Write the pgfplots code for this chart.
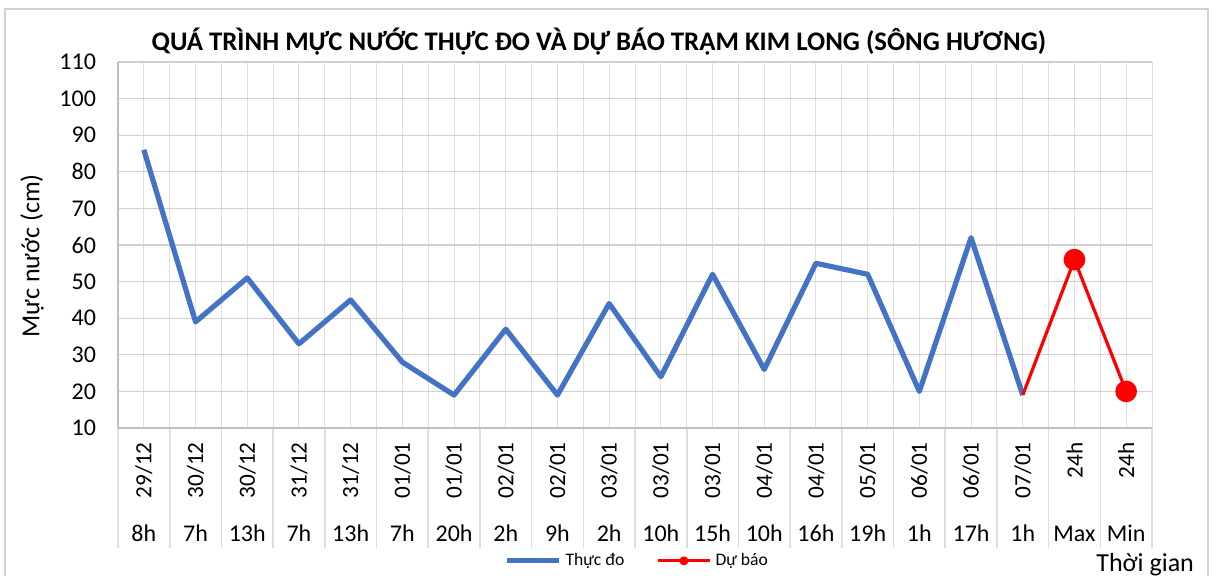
\documentclass[border=0pt]{standalone}
\usepackage{fontspec}
\setmainfont{Carlito}
\usepackage{pgfplots}
\pgfplotsset{compat=1.18}
\definecolor{lblue}{HTML}{4472C4}
\definecolor{lred}{HTML}{FF0000}
\definecolor{hgrid}{HTML}{D0D0D0}
\definecolor{vgrid}{HTML}{DEDEDE}
\definecolor{axgray}{HTML}{BFBFBF}
\newcommand\cat[3]{%
  \node[rotate=90,anchor=east,font=\fontsize{11.6}{13}\selectfont,inner sep=0pt] at ([yshift=-7pt]axis cs:#1,10) {#2};
  \node[anchor=base,font=\fontsize{12}{14}\selectfont,inner sep=0pt] at ([yshift=-56.5pt]axis cs:#1,10) {#3};}
\begin{document}
\begin{tikzpicture}
\path[use as bounding box] (0,0) rectangle (608.5pt,-288pt);
\draw[black!18,line width=1pt] (2.5pt,-4.5pt) rectangle (604pt,-300pt);
\begin{axis}[
  at={(59pt,-214pt)}, anchor=south west,
  width=517pt, height=183pt, scale only axis,
  clip=false,
  xmin=-0.5, xmax=19.5, ymin=10, ymax=110,
  xtick={0,...,19}, xticklabels={},
  minor xtick={-0.5,0.5,...,19.5},
  ytick={10,20,...,110},
  grid=both,
  major x grid style={vgrid,line width=0.5pt},
  minor x grid style={vgrid,line width=0.5pt},
  major y grid style={hgrid,line width=0.6pt},
  axis x line*=bottom, axis y line*=left,
  axis line style={-,axgray,line width=0.6pt},
  major tick length=0pt,
  minor tick length=60pt,
  tick align=outside,
  minor x tick style={vgrid,line width=0.8pt},
  /pgf/number format/assume math mode=true,
  yticklabel style={font=\fontsize{12}{14}\selectfont, xshift=-7.5pt},
  legend columns=2,
  legend style={at={(0.503,-0.363)}, anchor=center, draw=none, fill=none,
    font=\fontsize{8.8}{10}\selectfont,
    /tikz/every even column/.append style={column sep=14pt}},
  legend image code/.code={\draw[mark repeat=2,mark phase=2,#1] plot coordinates {(0pt,0pt) (13pt,0pt) (26pt,0pt)};},
]
\addplot[lblue, line width=2.6pt, line join=round, forget plot] coordinates {
(0,86) (1,39) (2,51) (3,33) (4,45) (5,28) (6,19) (7,37) (8,19) (9,44)
(10,24) (11,52) (12,26) (13,55) (14,52) (15,20) (16,62) (17,19)
};
\addplot[lred, line width=1.6pt, line join=round, mark=*, mark size=4.6pt, mark indices={2,3}, forget plot] coordinates {
(17,19) (18,56) (19,20)
};
\addlegendimage{lblue, line width=2.6pt}
\addlegendentry{Thực đo}
\addlegendimage{lred, line width=1.6pt, mark=*, mark size=1.4pt}
\addlegendentry{Dự báo}
\cat{0}{29/12}{8h}
\cat{1}{30/12}{7h}
\cat{2}{30/12}{13h}
\cat{3}{31/12}{7h}
\cat{4}{31/12}{13h}
\cat{5}{01/01}{7h}
\cat{6}{01/01}{20h}
\cat{7}{02/01}{2h}
\cat{8}{02/01}{9h}
\cat{9}{03/01}{2h}
\cat{10}{03/01}{10h}
\cat{11}{03/01}{15h}
\cat{12}{04/01}{10h}
\cat{13}{04/01}{16h}
\cat{14}{05/01}{19h}
\cat{15}{06/01}{1h}
\cat{16}{06/01}{17h}
\cat{17}{07/01}{1h}
\cat{18}{24h}{Max}
\cat{19}{24h}{Min}
\end{axis}
\node[font=\bfseries\fontsize{13.4}{15}\selectfont] at (299.5pt,-21pt) {QUÁ TRÌNH MỰC NƯỚC THỰC ĐO VÀ DỰ BÁO TRẠM KIM LONG (SÔNG HƯƠNG)};
\node[rotate=90,font=\fontsize{13}{15}\selectfont] at (16pt,-128pt) {Mực nước (cm)};
\node[anchor=base west,font=\fontsize{13}{15}\selectfont,inner sep=0pt] at (548pt,-286pt) {Thời gian};
\end{tikzpicture}
\end{document}
